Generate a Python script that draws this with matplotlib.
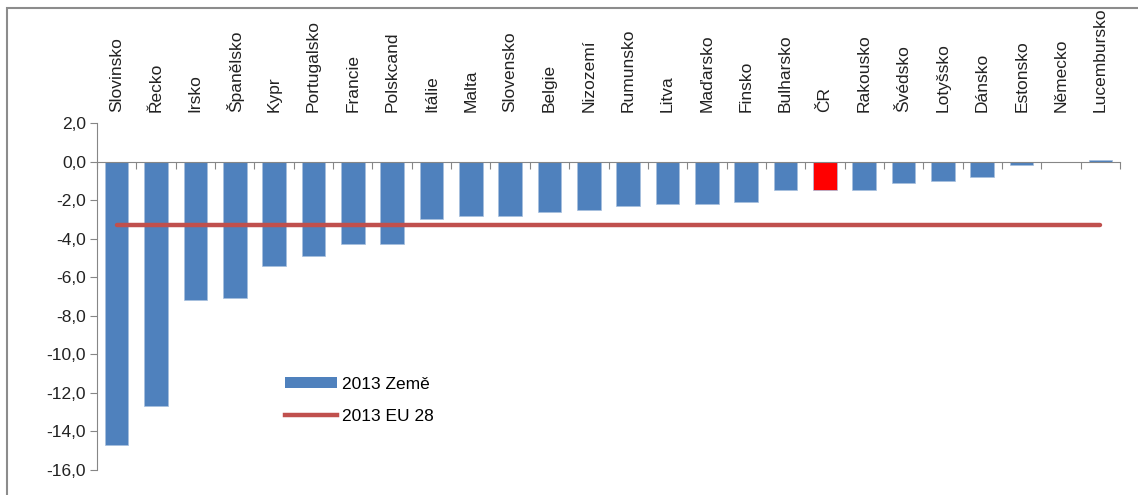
import matplotlib.pyplot as plt
from matplotlib.patches import Rectangle, Patch
from matplotlib.lines import Line2D
import numpy as np

plt.rcParams['font.family'] = ['Liberation Sans', 'DejaVu Sans']

countries = ["Slovinsko", "Řecko", "Irsko", "Španělsko", "Kypr", "Portugalsko",
             "Francie", "Polskcand", "Itálie", "Malta", "Slovensko", "Belgie",
             "Nizozemí", "Rumunsko", "Litva", "Maďarsko", "Finsko", "Bulharsko",
             "ČR", "Rakousko", "Švédsko", "Lotyšsko", "Dánsko", "Estonsko",
             "Německo", "Lucembursko"]
values_2013 = [-14.7, -12.7, -7.2, -7.1, -5.4, -4.9, -4.3, -4.3, -3.0, -2.8,
               -2.8, -2.6, -2.5, -2.3, -2.2, -2.2, -2.1, -1.5, -1.5, -1.5,
               -1.1, -1.0, -0.8, -0.2, 0.0, 0.1]
eu28 = [-3.3] * len(countries)
yticks = [2, 0, -2, -4, -6, -8, -10, -12, -14, -16]

blue = "#4F81BD"
red = "#FF0000"
line_red = "#C0504D"
grey = "#868686"
fs = 12.5

fig = plt.figure(figsize=(11.38, 4.95), dpi=100)
ax = fig.add_axes([97 / 1138, 25 / 495, 1023 / 1138, 347 / 495])

x = np.arange(len(countries))
colors = [red if c == "ČR" else blue for c in countries]
ax.bar(x, values_2013, width=0.6, color=colors, edgecolor="#A7BFDE", linewidth=0.5, zorder=2)
ax.plot(x, eu28, color=line_red, linewidth=3.2, solid_capstyle="round", zorder=3)

ax.set_xlim(-0.5, len(countries) - 0.5)
ax.set_ylim(-16, 2)
ax.set_yticks(yticks)
ax.set_yticklabels([f"{v:.1f}".replace(".", ",") for v in yticks], fontsize=fs, color="#222222")
ax.tick_params(axis="y", length=5, color=grey, width=0.8, pad=3)

# x axis sits on zero, ticks between categories
for s in ["top", "right"]:
    ax.spines[s].set_visible(False)
ax.spines["left"].set_color(grey)
ax.spines["bottom"].set_position(("data", 0))
ax.spines["bottom"].set_color(grey)
ax.set_xticks(np.arange(len(countries) + 1) - 0.5)
ax.set_xticklabels([])
ax.tick_params(axis="x", length=5, direction="out", color=grey, width=0.8)

for xi, name in zip(x, countries):
    ax.text(xi, 1.032, name, transform=ax.get_xaxis_transform(), rotation=90,
            ha="center", va="bottom", fontsize=fs, color="#222222")

handles = [Patch(facecolor=blue), Line2D([0], [0], color=line_red, lw=3.2)]
fig.legend(handles, ["2013 Země", "2013 EU 28"], loc="upper left",
           bbox_to_anchor=(269 / 1138, 1 - 361 / 495), frameon=False, fontsize=fs,
           handlelength=3.0, handleheight=0.55, labelspacing=1.0, handletextpad=0.3)

fig.patches.append(Rectangle((7 / 1138, -0.1), 1.2, 1 - 8 / 495 + 0.1,
                             transform=fig.transFigure, fill=False,
                             edgecolor="#8C8C8C", linewidth=1.5))

fig.savefig("out.png", dpi=100)
